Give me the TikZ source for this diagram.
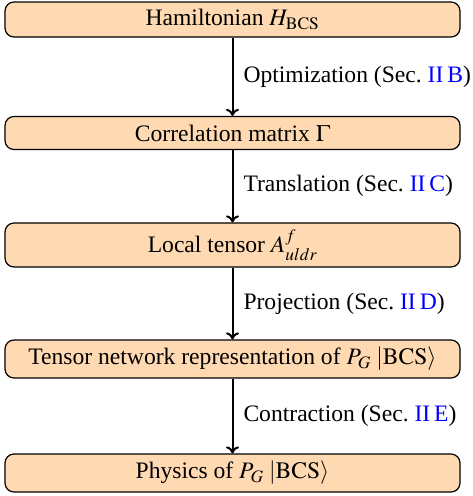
\documentclass[tikz,border=0pt]{standalone}
\usepackage{mathptmx}
\usepackage{fontspec}
\setmainfont{Liberation Serif}
\usetikzlibrary{arrows.meta}
\begin{document}
\begin{tikzpicture}[x=1pt,y=1pt,
  box/.style={draw=black, line width=1.2pt, fill=orange!30, rounded corners=9pt,
    minimum width=455pt, inner sep=0pt, font=\fontsize{23.6}{28}\selectfont},
  flow/.style={draw=black, line width=2pt, -{To[length=7pt,width=13pt,line width=2pt]}},
  lbl/.style={anchor=west, inner sep=0pt, xshift=10pt, font=\fontsize{23.6}{28}\selectfont}]
\useasboundingbox (0,0) rectangle (472,-496);
\node[box, minimum height=35pt] (h) at (232.5,-19.5) {Hamiltonian $H_{\mathrm{BCS}}$};
\node[box, minimum height=33pt] (c) at (232.5,-133) {Correlation matrix $\Gamma$};
\node[box, minimum height=44pt] (l) at (232.5,-245) {Local tensor $A^{f}_{uldr}$};
\node[box, minimum height=38pt] (t) at (232.5,-359) {Tensor network representation of $P_G\;|\mathrm{BCS}\rangle$};
\node[box, minimum height=38pt] (p) at (232.5,-473) {Physics of $P_G\;|\mathrm{BCS}\rangle$};
\draw[flow] (h) -- node[lbl] {Optimization (Sec.~\textcolor{blue}{II\,B})} (c);
\draw[flow] (c) -- node[lbl] {Translation (Sec.~\textcolor{blue}{II\,C})} (l);
\draw[flow] (l) -- node[lbl] {Projection (Sec.~\textcolor{blue}{II\,D})} (t);
\draw[flow] (t) -- node[lbl] {Contraction (Sec.~\textcolor{blue}{II\,E})} (p);
\end{tikzpicture}
\end{document}
